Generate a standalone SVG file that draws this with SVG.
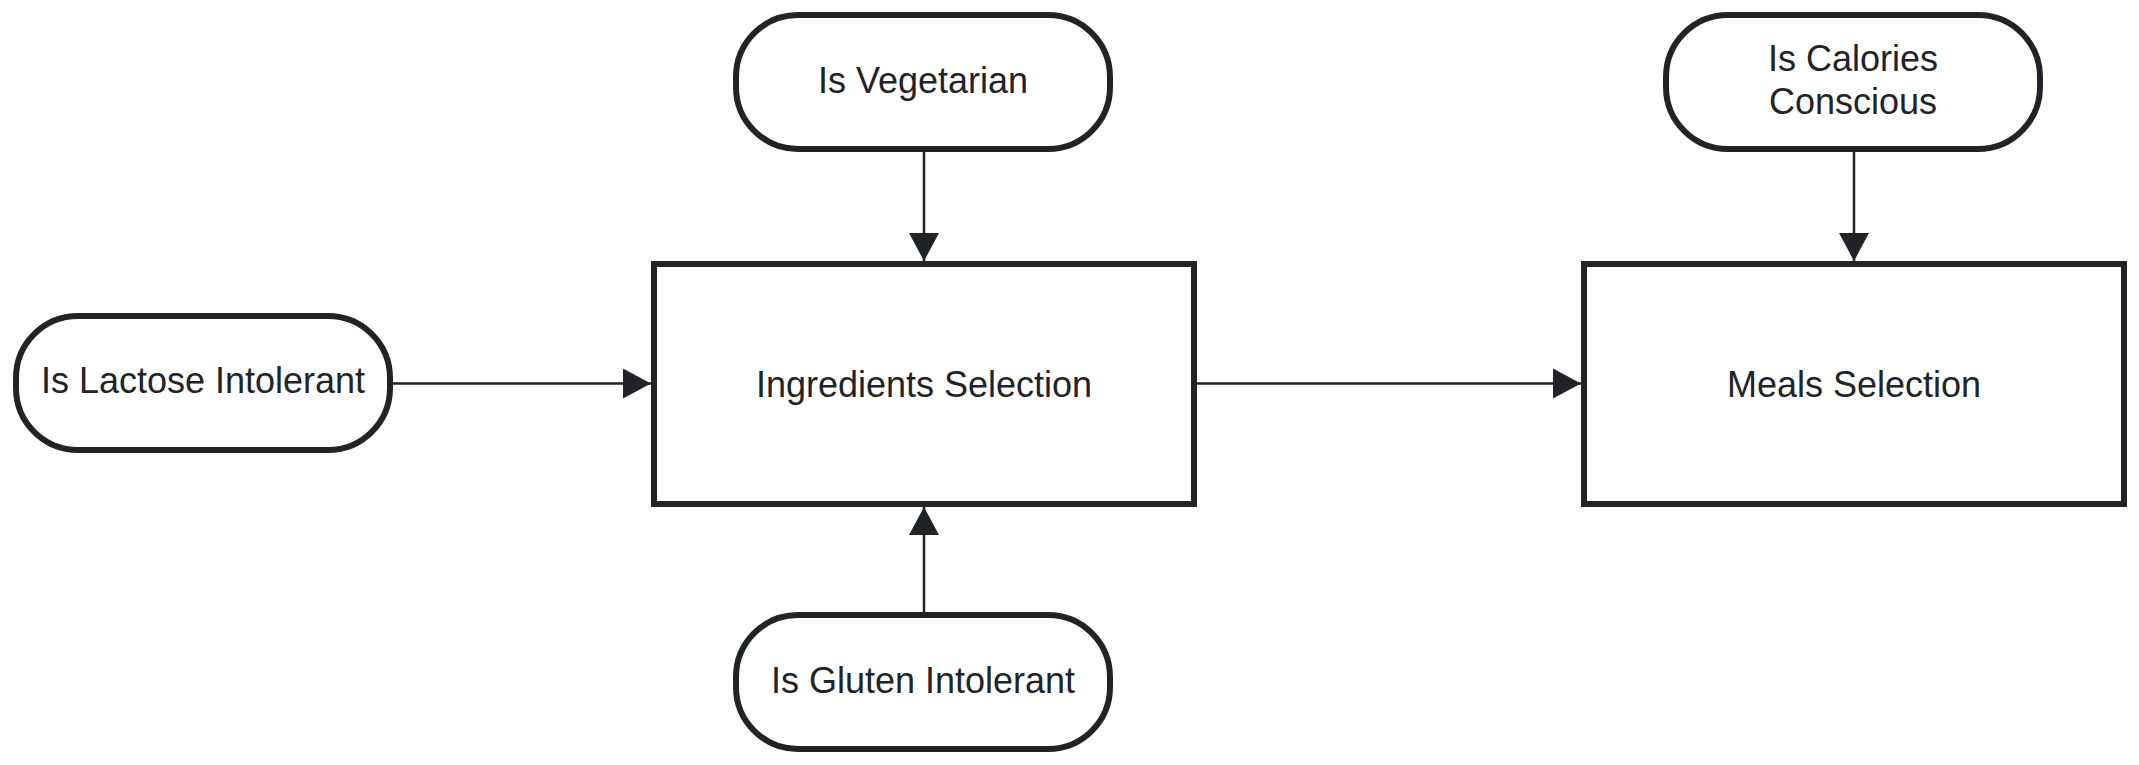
<svg xmlns="http://www.w3.org/2000/svg" width="2139" height="765" viewBox="0 0 2139 765">
  <style>
    .pill { fill: #ffffff; stroke: #222327; stroke-width: 6; }
    .box { fill: #ffffff; stroke: #222327; stroke-width: 6; }
    .label { font-family: "Liberation Sans", Arial, sans-serif; font-size: 36px; fill: #222327; text-anchor: middle; }
    .edge { stroke: #222327; stroke-width: 2.5; fill: none; marker-end: url(#arrow); }
  </style>
  <defs>
    <marker id="arrow" markerUnits="userSpaceOnUse" markerWidth="28" markerHeight="30" viewBox="0 0 28 30" refX="28" refY="15" orient="auto">
      <path d="M0,0 L28,15 L0,30 Z" fill="#222327"/>
    </marker>
  </defs>
  <rect width="2139" height="765" fill="#ffffff"/>

  <g id="connectors">
    <line class="edge" x1="924" y1="152" x2="924" y2="261"/>
    <line class="edge" x1="924" y1="612" x2="924" y2="507"/>
    <line class="edge" x1="393" y1="383.5" x2="651" y2="383.5"/>
    <line class="edge" x1="1197" y1="383.5" x2="1581" y2="383.5"/>
    <line class="edge" x1="1854" y1="152" x2="1854" y2="261"/>
  </g>

  <g id="is-vegetarian">
    <rect class="pill" x="736" y="15" width="374" height="134" rx="62" ry="62"/>
    <text class="label" x="923" y="93">Is Vegetarian</text>
  </g>

  <g id="is-lactose-intolerant">
    <rect class="pill" x="16" y="316" width="374" height="134" rx="62" ry="62"/>
    <text class="label" x="203" y="393">Is Lactose Intolerant</text>
  </g>

  <g id="is-gluten-intolerant">
    <rect class="pill" x="736" y="615" width="374" height="134" rx="62" ry="62"/>
    <text class="label" x="923" y="693">Is Gluten Intolerant</text>
  </g>

  <g id="is-calories-conscious">
    <rect class="pill" x="1666" y="15" width="374" height="134" rx="62" ry="62"/>
    <text class="label" x="1853" y="71">Is Calories</text>
    <text class="label" x="1853" y="113.5">Conscious</text>
  </g>

  <g id="ingredients-selection">
    <rect class="box" x="654" y="264" width="540" height="240"/>
    <text class="label" x="924" y="396.5">Ingredients Selection</text>
  </g>

  <g id="meals-selection">
    <rect class="box" x="1584" y="264" width="540" height="240"/>
    <text class="label" x="1854" y="396.5">Meals Selection</text>
  </g>
</svg>
